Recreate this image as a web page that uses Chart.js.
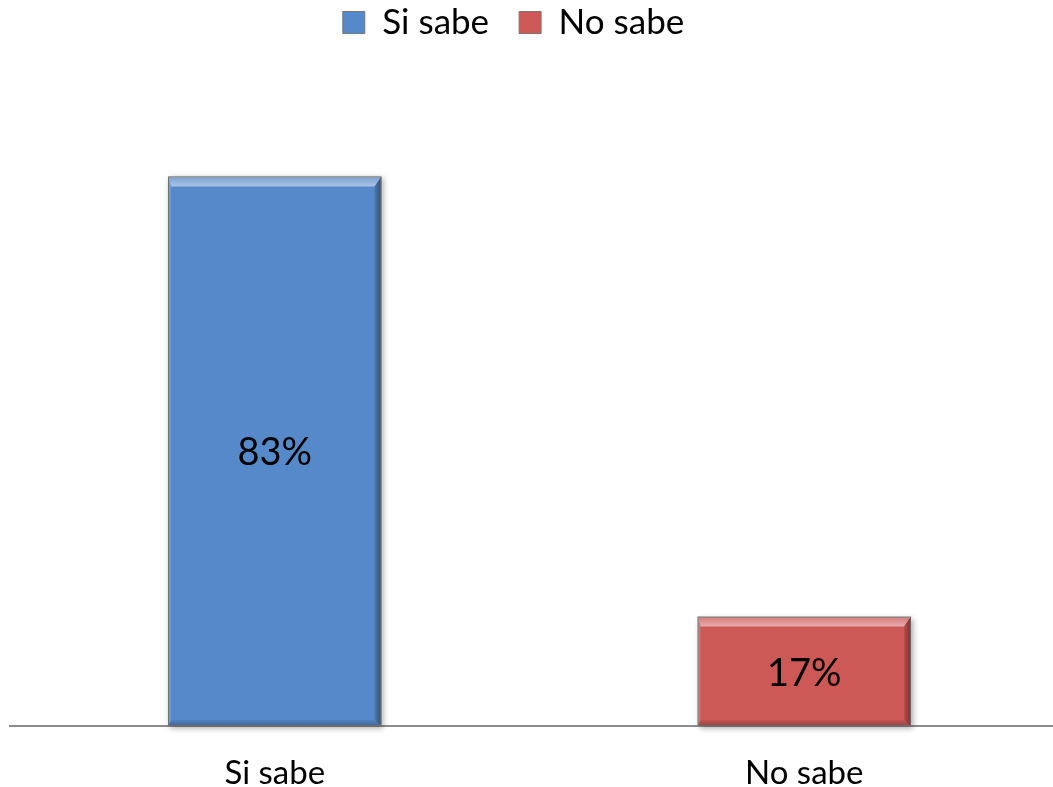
<!DOCTYPE html>
<html>
<head>
<meta charset="utf-8">
<script src="https://cdn.jsdelivr.net/npm/chart.js@4.4.1/dist/chart.umd.min.js"></script>
<style>
  html, body { margin: 0; padding: 0; background: #fff; overflow: hidden; }
  /* plot runs a little past the right edge of the window, as in the source */
  #wrap { width: 1069px; height: 787px; position: relative; }
</style>
</head>
<body>
<div id="wrap"><canvas id="chart"></canvas></div>
<script>
// ── Data ────────────────────────────────────────────────
const CATEGORIES = ['Si sabe', 'No sabe'];
const SERIES_NAMES = ['Si sabe', 'No sabe'];
const VALUES = [83.4, 16.6];            // percent
const FILLS   = ['#5689c9', '#cd5957'];

const FONT = 'Lato, "Open Sans", sans-serif';

// one dataset per series so the legend shows both, bars sit in their own category
const datasets = SERIES_NAMES.map((name, i) => ({
  label: name,
  data: CATEGORIES.map((c, j) => (j === i ? VALUES[i] : null)),
  backgroundColor: FILLS[i],
  borderColor: 'rgba(110,110,110,0.9)',
  borderWidth: 1,
  borderSkipped: false,
  barPercentage: 1,
  categoryPercentage: 0.403,
  grouped: false,
}));

// ── Bevel + shadow look, drawn around the bars ──────────
function eachBar(chart, fn) {
  chart.data.datasets.forEach((ds, i) => {
    chart.getDatasetMeta(i).data.forEach((bar, j) => {
      if (ds.data[j] == null) return;
      fn(bar.getProps(['x', 'y', 'base', 'width'], true), i, ds.data[j]);
    });
  });
}

const bevelPlugin = {
  id: 'bevel',
  beforeDatasetsDraw(chart) {
    const ctx = chart.ctx;
    eachBar(chart, ({ x, y, base, width }) => {
      ctx.save();
      ctx.shadowColor = 'rgba(0,0,0,0.35)';
      ctx.shadowBlur = 6;
      ctx.shadowOffsetX = 2;
      ctx.shadowOffsetY = 2;
      ctx.fillStyle = '#fff';
      ctx.fillRect(x - width / 2, y, width, base - y);
      ctx.restore();
    });
  },
  afterDatasetsDraw(chart) {
    const ctx = chart.ctx;
    const bt = 10, br = 7, bb = 6, bl = 3;
    eachBar(chart, ({ x, y, base, width }) => {
      const l = x - width / 2, r = x + width / 2, t = y, btm = base;
      const poly = (pts, fill) => {
        ctx.beginPath();
        ctx.moveTo(pts[0][0], pts[0][1]);
        pts.slice(1).forEach(p => ctx.lineTo(p[0], p[1]));
        ctx.closePath();
        ctx.fillStyle = fill;
        ctx.fill();
      };
      const grad = (x0, y0, x1, y1, c0, c1) => {
        const g = ctx.createLinearGradient(x0, y0, x1, y1);
        g.addColorStop(0, c0);
        g.addColorStop(1, c1);
        return g;
      };
      ctx.save();
      // top light band
      poly([[l, t], [r, t], [r - br, t + bt], [l + bl, t + bt]],
        grad(0, t, 0, t + bt, 'rgba(255,255,255,0.2)', 'rgba(255,255,255,0.5)'));
      // right dark band
      poly([[r, t], [r, btm], [r - br, btm - bb], [r - br, t + bt]],
        grad(r, 0, r - br, 0, 'rgba(0,0,0,0.45)', 'rgba(0,0,0,0.1)'));
      // bottom dark band
      poly([[l, btm], [r, btm], [r - br, btm - bb], [l + bl, btm - bb]],
        grad(0, btm, 0, btm - bb, 'rgba(0,0,0,0.25)', 'rgba(0,0,0,0.05)'));
      // left light band
      poly([[l, t], [l + bl, t + bt], [l + bl, btm - bb], [l, btm]],
        'rgba(255,255,255,0.14)');
      ctx.strokeStyle = 'rgba(110,110,110,0.9)';
      ctx.lineWidth = 1;
      ctx.strokeRect(l + 0.5, t + 0.5, width - 1, btm - t - 1);
      ctx.restore();
    });
  }
};

// ── Value labels centred inside bars ────────────────────
const valueLabels = {
  id: 'valueLabels',
  afterDatasetsDraw(chart) {
    const ctx = chart.ctx;
    ctx.save();
    ctx.font = '38px ' + FONT;
    ctx.fillStyle = '#000';
    ctx.textAlign = 'center';
    ctx.textBaseline = 'middle';
    eachBar(chart, ({ x, y, base }, i, v) => {
      ctx.fillText(Math.round(v) + '%', x, (y + base) / 2 + 2);
    });
    ctx.restore();
  }
};

// fixed legend block height, legend pulled back to the window centre
const legendFit = {
  id: 'legendFit',
  beforeInit(chart) {
    const fit = chart.legend.fit;
    chart.legend.fit = function () {
      fit.bind(chart.legend)();
      this.height = 92;
    };
  },
  afterLayout(chart) {
    chart.legend.left -= 26;
    chart.legend.right -= 26;
  }
};

new Chart(document.getElementById('chart'), {
  type: 'bar',
  data: { labels: CATEGORIES, datasets },
  options: {
    responsive: true, maintainAspectRatio: false,
    animation: false,
    layout: { padding: { left: 10, right: 0, top: -25, bottom: -34 } },
    plugins: {
      legend: {
        position: 'top',
        labels: {
          color: '#000',
          font: { family: FONT, size: 35 },
          boxWidth: 22, boxHeight: 22,
          padding: 30,
        }
      },
      tooltip: { enabled: false },
    },
    scales: {
      x: {
        grid: { display: false, drawTicks: false },
        border: { display: true, color: '#8c8c8c', width: 2 },
        ticks: { color: '#000', font: { family: FONT, size: 33, lineHeight: 1 }, padding: 31 },
      },
      y: {
        display: false,
        min: 0, max: 100,
      }
    }
  },
  plugins: [legendFit, bevelPlugin, valueLabels]
});
</script>
</body>
</html>
